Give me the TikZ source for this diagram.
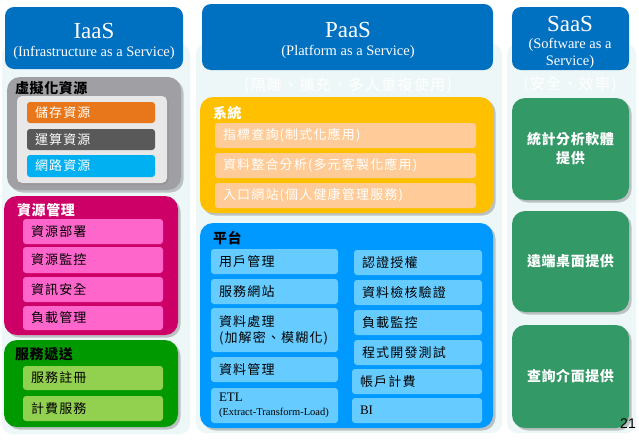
\documentclass[tikz,border=0pt]{standalone}
\usepackage{fontspec}
\setmainfont{Liberation Serif}
\newfontfamily\cjk{Noto Sans CJK TC}
\newfontfamily\cjks[LetterSpace=9]{Noto Sans CJK TC}
\newfontfamily\cjkt[LetterSpace=4]{Noto Sans CJK TC}
\newfontfamily\pnum{Liberation Sans}
\usetikzlibrary{shadows}
\definecolor{hdrblue}{HTML}{0070C0}
\definecolor{panelc}{HTML}{EEF7F7}
\definecolor{virtgray}{HTML}{A0A0A4}
\definecolor{innerc}{HTML}{E8E8E8}
\definecolor{orangec}{HTML}{E8771B}
\definecolor{darkgrayc}{HTML}{595959}
\definecolor{cyanc}{HTML}{00B0F0}
\definecolor{magc}{HTML}{CC0066}
\definecolor{pinkc}{HTML}{FF66CC}
\definecolor{greenc}{HTML}{009900}
\definecolor{lgreenc}{HTML}{92D050}
\definecolor{goldc}{HTML}{FFC000}
\definecolor{peachc}{HTML}{FFCC99}
\definecolor{skyc}{HTML}{0099FF}
\definecolor{lskyc}{HTML}{66CCFF}
\definecolor{saasg}{HTML}{339966}
\begin{document}
\begin{tikzpicture}[x=1pt,y=-1pt,
  box/.style={anchor=north west, inner sep=0pt, outer sep=0pt},
  sz/.style 2 args={minimum width=#1pt, minimum height=#2pt},
  panel/.style={box, fill=panelc, rounded corners=10pt},
  header/.style={box, fill=hdrblue, rounded corners=9pt},
  shd/.style={drop shadow={shadow xshift=2.5pt, shadow yshift=-2.5pt, opacity=0.45}},
  group/.style={box, rounded corners=13pt, shd},
  item/.style={anchor=north west, outer sep=0pt, inner xsep=8pt, inner ysep=0pt, rounded corners=3pt, align=left, font=\cjks\fontsize{13}{16}\selectfont},
  gtitle/.style={anchor=west, inner sep=0pt, font=\cjkt\bfseries\fontsize{14}{16}\selectfont},
  big/.style={text=white, font=\fontsize{23}{25}\selectfont},
  sub/.style={text=white, font=\fontsize{14.5}{16}\selectfont},
  faint/.style={text=white, font=\cjks\fontsize{15}{17}\selectfont},
  saasbox/.style={group, fill=saasg, minimum width=117pt, text=white, align=center, font=\cjkt\bfseries\fontsize{14}{19}\selectfont}
]
\useasboundingbox (0,0) rectangle (639,439);
\fill[white] (0,0) rectangle (639,439);

% background panels
\node[panel, sz={188}{390}] (pl) at (2,44) {};
\node[panel, sz={306}{389}] (pm) at (196,44) {};
\node[panel, sz={129}{389}] (pr) at (507,44) {};

% ---------- IaaS ----------
\node[header, sz={178}{62}] (hi) at (5,7) {};
\node[big] (hit) at (94,31) {IaaS};
\node[sub] (his) at (94,53) {(Infrastructure as a Service)};

\node[group, fill=virtgray, sz={174}{113}] (gv) at (7,77) {};
\node[gtitle] (gvt) at (15,88) {虛擬化資源};
\node[box, fill=innerc, rounded corners=5pt, sz={150}{87}, drop shadow={shadow xshift=1.5pt, shadow yshift=-1.5pt, opacity=0.35}] (gvi) at (17,96) {};
\node[item, fill=orangec, text=white, text width=112pt, minimum height=21pt] (v1) at (27,102) {儲存資源};
\node[item, fill=darkgrayc, text=white, text width=112pt, minimum height=21pt] (v2) at (27,129) {運算資源};
\node[item, fill=cyanc, text=white, text width=112pt, minimum height=22pt] (v3) at (27,155) {網路資源};

\node[group, fill=magc, sz={174}{139}] (gm) at (4,196) {};
\node[gtitle, text=white] (gmt) at (17,210) {資源管理};
\node[item, fill=pinkc, text width=124pt, minimum height=25pt] (m1) at (23,219) {資源部署};
\node[item, fill=pinkc, text width=124pt, minimum height=26pt] (m2) at (23,247) {資源監控};
\node[item, fill=pinkc, text width=124pt, minimum height=25pt] (m3) at (23,277) {資訊安全};
\node[item, fill=pinkc, text width=124pt, minimum height=24pt] (m4) at (23,306) {負載管理};

\node[group, fill=greenc, sz={174}{87}] (gs) at (4,340) {};
\node[gtitle] (gst) at (15,354) {服務遞送};
\node[item, fill=lgreenc, text width=124pt, minimum height=24pt] (s1) at (23,366) {服務註冊};
\node[item, fill=lgreenc, text width=124pt, minimum height=25pt] (s2) at (23,396) {計費服務};

% ---------- PaaS ----------
\node[header, sz={291}{66}] (hp) at (202,4) {};
\node[big] (hpt) at (348,30) {PaaS};
\node[sub] (hps) at (348,52) {(Platform as a Service)};
\node[faint] (fp) at (348,86) {(隔離、擴充、多人重複使用)};

\node[group, fill=goldc, sz={293}{116}] (gy) at (200,97) {};
\node[gtitle, text=white] (gyt) at (213,113) {系統};
\node[item, fill=peachc, text=white, text width=245pt, minimum height=25pt] (y1) at (215,123) {指標查詢(制式化應用)};
\node[item, fill=peachc, text=white, text width=245pt, minimum height=25pt] (y2) at (215,153) {資料整合分析(多元客製化應用)};
\node[item, fill=peachc, text=white, text width=245pt, minimum height=25pt] (y3) at (215,183) {入口網站(個人健康管理服務)};

\node[group, fill=skyc, sz={293}{205}] (gp) at (200,223) {};
\node[gtitle] (gpt) at (213,238) {平台};
\node[item, fill=lskyc, text width=111pt, minimum height=25pt] (p1) at (211,249) {用戶管理};
\node[item, fill=lskyc, text width=111pt, minimum height=25pt] (p2) at (211,279) {服務網站};
\node[item, fill=lskyc, text width=111pt, minimum height=44pt] (p3) at (211,308) {資料處理\\(加解密、模糊化)};
\node[item, fill=lskyc, text width=111pt, minimum height=25pt] (p4) at (211,357) {資料管理};
\node[item, fill=lskyc, text width=111pt, minimum height=35pt, font=\fontsize{13}{14}\selectfont] (p5) at (211,388) {ETL\\{\fontsize{10.5}{12}\selectfont(Extract-Transform-Load)}};
\node[item, fill=lskyc, text width=112pt, minimum height=25pt] (q1) at (354,250) {認證授權};
\node[item, fill=lskyc, text width=112pt, minimum height=25pt] (q2) at (354,280) {資料檢核驗證};
\node[item, fill=lskyc, text width=112pt, minimum height=25pt] (q3) at (354,310) {負載監控};
\node[item, fill=lskyc, text width=112pt, minimum height=25pt] (q4) at (354,340) {程式開發測試};
\node[item, fill=lskyc, text width=114pt, minimum height=25pt] (q5) at (352,369) {帳戶計費};
\node[item, fill=lskyc, text width=114pt, minimum height=25pt, font=\fontsize{13}{15}\selectfont] (q6) at (352,398) {BI};

% ---------- SaaS ----------
\node[header, sz={117}{63}] (hs) at (512,7) {};
\node[big] (hst) at (570,24) {SaaS};
\node[sub] (hss1) at (570,45) {(Software as a};
\node[sub] (hss2) at (570,62) {Service)};
\node[faint] (fs) at (570,85) {(安全、效率)};

\node[saasbox, minimum height=102pt] (a1) at (512,98) {統計分析軟體\\提供};
\node[saasbox, minimum height=101pt] (a2) at (512,211) {遠端桌面提供};
\node[saasbox, minimum height=103pt] (a3) at (512,325) {查詢介面提供};

\node[font=\pnum\fontsize{14}{15}\selectfont, inner sep=0pt] (pg) at (628,424) {21};
\end{tikzpicture}
\end{document}
